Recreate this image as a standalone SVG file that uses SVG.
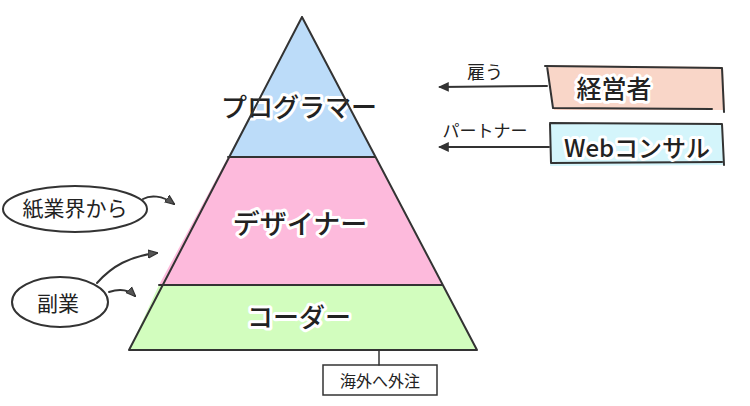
<svg xmlns="http://www.w3.org/2000/svg" width="750" height="406" viewBox="0 0 750 406">
<style>
.ln{fill:none;stroke:#333;stroke-width:2;stroke-linecap:round;stroke-linejoin:round}
.lbl{font-family:"Noto Sans CJK JP","Noto Sans",sans-serif;fill:#222;text-anchor:middle;dominant-baseline:central}
.big{font-weight:500}
.halo{stroke:#fff;stroke-width:6;paint-order:stroke;stroke-linejoin:round}
</style>
<defs>
<marker id="ah" viewBox="0 0 10 10" refX="8" refY="5" markerWidth="11" markerHeight="11" orient="auto" markerUnits="userSpaceOnUse">
<path d="M0,0.5 L10,5 L0,9.5 Z" fill="#333"/>
</marker>
<marker id="ah2" viewBox="0 0 10 10" refX="9" refY="5" markerWidth="10" markerHeight="10" orient="auto" markerUnits="userSpaceOnUse">
<path d="M0,1 L10,5 L0,9 Z" fill="#555" stroke="#333" stroke-width="1.2"/>
</marker>
</defs>
<rect width="750" height="406" fill="#fff"/>
<g id="programmer">
<polygon points="302,17 375,157 228,157" fill="#bcdcf9"/>
<text class="lbl big halo" x="299" y="105" font-size="26">プログラマー</text>
</g>
<g id="designer">
<polygon points="228,157 375,157 442,285 159,285" fill="#fdbadc"/>
<text class="lbl big halo" x="300" y="222" font-size="27">デザイナー</text>
</g>
<g id="coder">
<polygon points="159,285 442,285 477,350 129,350" fill="#d2fdbe"/>
<text class="lbl big halo" x="299" y="315" font-size="26">コーダー</text>
</g>
<g id="pyramid-outline">
<path class="ln" d="M302,17 L477,350 M302,17 L129,350 M129,350 L477,350 M228,157 L375,157 M159,285 L442,285"/>
</g>
<g id="employer">
<path d="M547,65 L723,67 L725,110 L554,110 Z" fill="#f9d6c8"/>
<path class="ln" d="M545,66 L722,68 L724,112 M547,66 L553,108 L712,109"/>
<text class="lbl big halo" x="614" y="87" font-size="25">経営者</text>
</g>
<g id="webconsul">
<path d="M550,124 L722,124 L725,165 L550,166 Z" fill="#d4f5fb"/>
<path class="ln" d="M550,123 L722,124 L724,165 M550,124 L551,163 L722,162"/>
<text class="lbl big halo" x="637" y="146" font-size="24">Webコンサル</text>
</g>
<g id="paper">
<ellipse class="ln" cx="75" cy="209" rx="72" ry="23"/>
<text class="lbl" x="75" y="207" font-size="21">紙業界から</text>
</g>
<g id="side">
<ellipse class="ln" cx="60" cy="302" rx="48" ry="25"/>
<text class="lbl" x="58" y="302" font-size="21">副業</text>
</g>
<g id="offshore">
<rect x="323" y="365" width="114" height="30" fill="#fff" stroke="#333" stroke-width="1.5"/>
<text class="lbl" x="380" y="380" font-size="16">海外へ外注</text>
</g>
<g id="connectors">
<path class="ln" d="M547,86 L440,87" marker-end="url(#ah)"/>
<path class="ln" d="M549,147 L440,147" marker-end="url(#ah)"/>
<path class="ln" d="M143,199 C150,195 162,195 174,204" marker-end="url(#ah2)"/>
<path class="ln" d="M97,283 C112,266 130,256 157,253" marker-end="url(#ah2)"/>
<path class="ln" d="M109,292 C118,289 128,289 135,296" marker-end="url(#ah2)"/>
<path class="ln" d="M379,350 L379,365" style="stroke-width:1.5"/>
<text class="lbl" x="485" y="71" font-size="18">雇う</text>
<text class="lbl" x="485" y="129" font-size="17">パートナー</text>
</g>
</svg>
